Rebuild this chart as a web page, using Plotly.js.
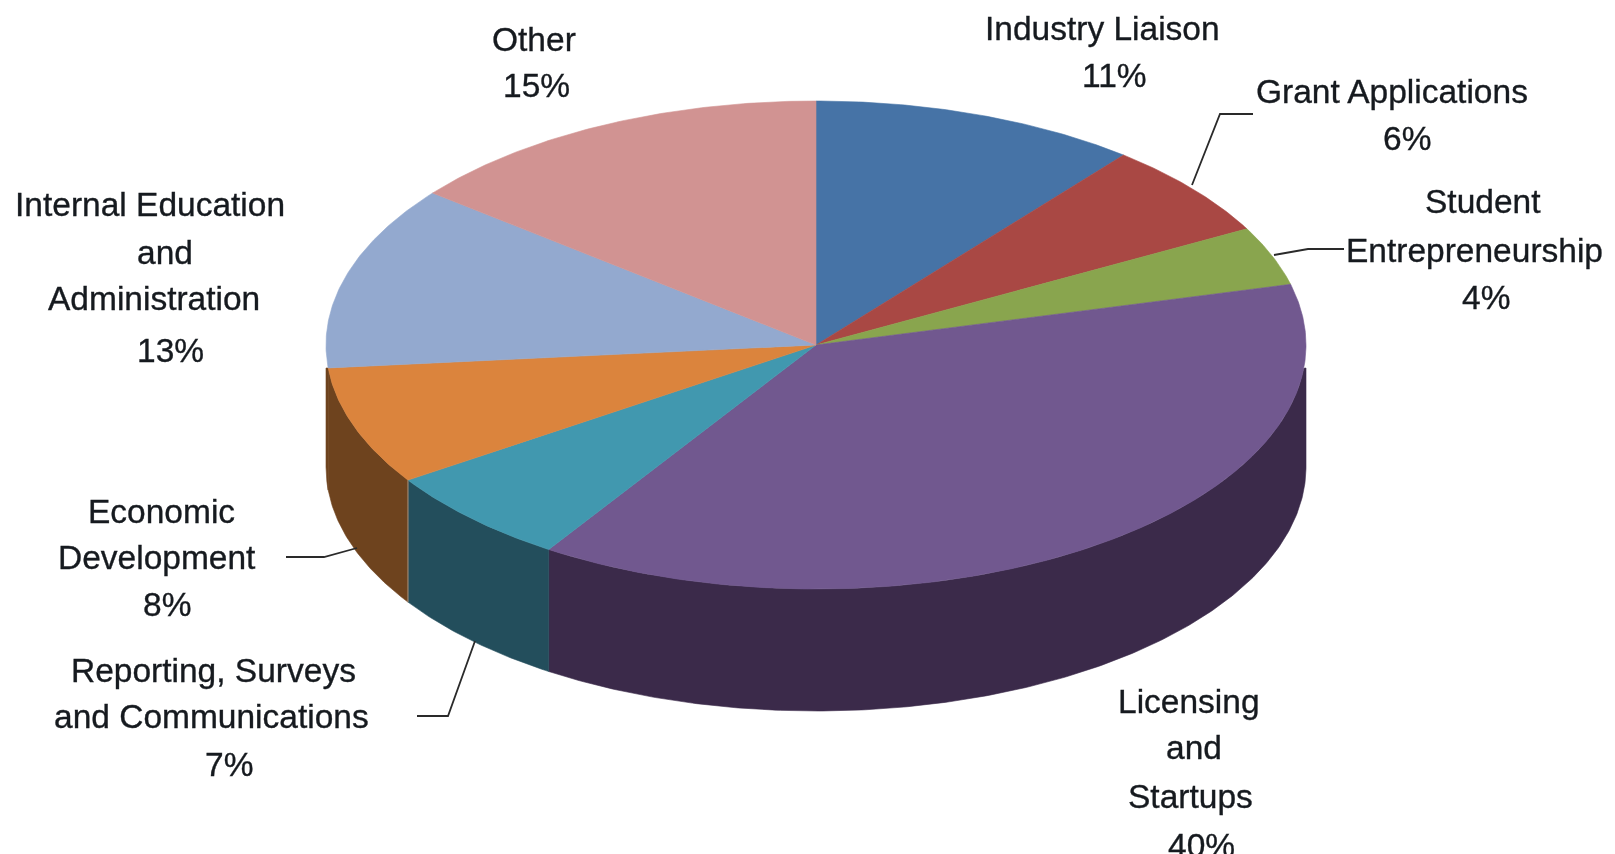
<!DOCTYPE html>
<html>
<head>
<meta charset="utf-8">
<script src="https://cdn.plot.ly/plotly-3.0.1.min.js"></script>
<style>
html,body{margin:0;padding:0;background:#fff;overflow:hidden}
#chart{width:1615px;height:854px;filter:blur(0.45px)}
#chart .annotation-text{stroke:#161a1f;stroke-width:0.35px}
</style>
</head>
<body>
<div id="chart"></div>
<script>
// Data, clockwise from 12 o'clock
const categories = ["Industry Liaison","Grant Applications","Student Entrepreneurship","Licensing and Startups","Reporting, Surveys and Communications","Economic Development","Internal Education and Administration","Other"];
const labelPercents = [11,6,4,40,7,8,13,15];
const sliceShares = [10.8,6.3,3.9,38.18,6.48,7.84,12.2,14.3];
const topColors = ["#4673A6","#A94844","#89A54E","#71588F","#4198AF","#DB843D","#93A9CF","#D19392"];
const wallColors = ["#2B4A6E","#6E2C2A","#566B30","#3B2A4A","#234E5C","#6E431E","#6E431E","#8A5F5E"];

// Layout of the drawing
const W = 1615, H = 854;
const pie = {cx:816, cy:345, rx:490, ry:244, depth:122, wallTop:368};
const textColor = "#161a1f", fontSize = 33.5;
const labelLines = [
  ["Industry Liaison",1102,28],["11%",1114,75],
  ["Grant Applications",1392,91],["6%",1407,138],
  ["Student",1483,201],["Entrepreneurship",1474,250],["4%",1486,297],
  ["Other",534,39],["15%",536,85],
  ["Internal Education",150,204],["and",165,252],["Administration",154,298],["13%",170,350],
  ["Economic",161,511],["Development",157,557],["8%",167,604],
  ["Reporting, Surveys",213,670],["and Communications",211,716],["7%",229,764],
  ["Licensing",1189,701],["and",1194,747],["Startups",1190,796],["40%",1201,845]
];
const leaders = [
  [[1253,1220,1192],[114,114,185]],
  [[1344,1308,1274],[249,249,255]],
  [[286,324,357],[557,557,548]],
  [[417,448,475],[716,716,641]]
];
const seamAfterSlice = 4; // light seam on the wall between Reporting and Economic Development

const total = sliceShares.reduce((a,b)=>a+b,0);
const px = (deg,dy=0)=>[pie.cx+pie.rx*Math.sin(deg*Math.PI/180), pie.cy-pie.ry*Math.cos(deg*Math.PI/180)+dy];
const wallPx = (deg,dy=0)=>{const p=px(deg,dy);return [p[0],Math.max(p[1],pie.wallTop)];};
function arc(a,b){const n=Math.max(2,Math.ceil(Math.abs(b-a)*2));const out=[];for(let i=0;i<=n;i++)out.push(a+(b-a)*i/n);return out;}
function poly(points,fill){return {type:"scatter",mode:"lines",x:points.map(p=>p[0]),y:points.map(p=>p[1]),fill:"toself",fillcolor:fill,line:{color:fill,width:0.6},hoverinfo:"skip",showlegend:false};}

const walls=[], tops=[], seams=[];
let start=0;
sliceShares.forEach((v,i)=>{
  const end=start+v/total*360;
  const a=Math.max(start,90), b=Math.min(end,270);
  if(b>a){
    const angles=arc(a,b);
    const pts=angles.map(d=>wallPx(d)).concat(angles.slice().reverse().map(d=>wallPx(d,pie.depth)));
    pts.push(pts[0]);
    walls.push(poly(pts,wallColors[i]));
  }
  if(i===seamAfterSlice){
    const t=px(end), u=px(end,pie.depth);
    seams.push({type:"scatter",mode:"lines",x:[t[0],u[0]],y:[t[1],u[1]],line:{color:"rgba(190,175,160,0.75)",width:1},hoverinfo:"skip",showlegend:false});
  }
  const pts=[[pie.cx,pie.cy]].concat(arc(start,end).map(d=>px(d)));
  pts.push([pie.cx,pie.cy]);
  tops.push(poly(pts,topColors[i]));
  start=end;
});
const leaderTraces=leaders.map(l=>({type:"scatter",mode:"lines",x:l[0],y:l[1],line:{color:"#2a2a2a",width:1.8},hoverinfo:"skip",showlegend:false}));

const annotations=labelLines.map(l=>({text:l[0],x:l[1],y:l[2],xref:"x",yref:"y",xanchor:"center",yanchor:"middle",showarrow:false,font:{family:"Liberation Sans, Arial, sans-serif",size:fontSize,color:textColor}}));

Plotly.newPlot("chart",walls.concat(seams,tops,leaderTraces),{
  width:W,height:H,margin:{l:0,r:0,t:0,b:0},paper_bgcolor:"#fff",plot_bgcolor:"#fff",showlegend:false,
  xaxis:{range:[0,W],visible:false,fixedrange:true},
  yaxis:{range:[H,0],visible:false,fixedrange:true},
  annotations
},{displayModeBar:false,staticPlot:true});
</script>
</body>
</html>
